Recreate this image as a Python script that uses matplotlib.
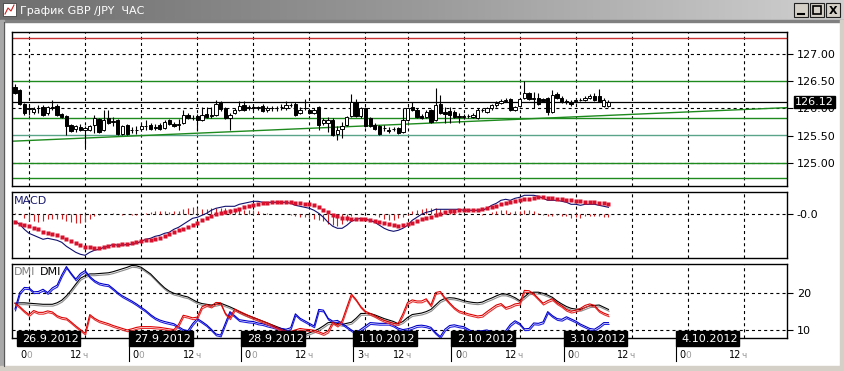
import matplotlib
matplotlib.use('Agg')
import matplotlib.pyplot as plt
import matplotlib.transforms as mtransforms
from matplotlib.colors import LinearSegmentedColormap
from matplotlib.patches import Rectangle
import numpy as np

plt.rcParams['font.family'] = ['DejaVu Sans']
plt.rcParams['lines.scale_dashes'] = False

# ---------------- data (hourly bars, 0 = 26.9.2012 00:00) ----------------
bars = np.arange(-3, 125)

opens = [126.39, 126.33, 126.08, 125.99, 125.94, 126.00, 126.02, 125.91, 126.02, 126.05, 125.90, 125.86, 125.70,
         125.62, 125.66, 125.61, 125.61, 125.70, 125.80, 125.60, 125.82, 125.76, 125.78,
         125.54, 125.70, 125.60, 125.60, 125.62, 125.67, 125.70, 125.65, 125.70, 125.64,
         125.78, 125.72, 125.70, 125.73, 125.88, 125.82, 125.87, 125.79, 125.89, 125.86,
         125.88, 126.11, 126.00, 125.82, 125.91, 125.97, 126.06, 126.01, 126.02, 126.01,
         126.05, 125.98, 126.00, 126.01, 126.02, 126.00, 126.06, 126.08, 125.91, 126.00,
         125.97, 125.92, 126.02, 125.73, 125.73, 125.79, 125.54, 125.62, 125.70, 125.86,
         126.12, 125.86, 126.00, 125.82, 125.70, 125.67, 125.64, 125.60, 125.62, 125.64,
         125.57, 125.79, 126.03, 125.97, 125.86, 125.85, 125.97, 125.79, 126.08, 125.94,
         125.96, 125.94, 125.86, 125.84, 125.86, 125.85, 125.83, 125.97, 125.94, 126.00,
         126.06, 126.10, 126.14, 126.17, 125.98, 126.05, 126.19, 126.28, 126.18, 126.19,
         126.17, 126.19, 125.94, 126.26, 126.19, 126.14, 126.12, 126.13, 126.16, 126.16,
         126.19, 126.22, 126.23, 126.05, 126.05]
highs = [126.45, 126.36, 126.10, 126.06, 126.03, 126.06, 126.06, 126.05, 126.16, 126.08, 125.92, 125.88, 125.72,
         125.70, 125.72, 125.68, 125.70, 125.88, 125.83, 125.97, 125.97, 125.85, 125.80,
         125.70, 125.72, 125.66, 125.67, 125.72, 125.79, 125.74, 125.72, 125.73, 125.79,
         125.80, 125.76, 125.80, 125.97, 125.91, 125.88, 125.89, 126.03, 126.03, 126.03,
         126.16, 126.14, 126.03, 125.91, 126.00, 126.14, 126.14, 126.06, 126.06, 126.05,
         126.08, 126.04, 126.05, 126.05, 126.08, 126.14, 126.10, 126.11, 126.02, 126.18,
         126.00, 126.00, 126.05, 125.82, 125.85, 125.82, 125.67, 125.76, 125.86, 126.27,
         126.17, 126.03, 126.03, 125.84, 125.73, 125.69, 125.69, 125.66, 125.66, 125.66,
         126.00, 126.03, 126.12, 126.00, 125.90, 125.98, 125.99, 126.37, 126.25, 126.02,
         126.02, 125.97, 125.92, 125.90, 125.90, 125.92, 126.00, 126.01, 126.03, 126.09,
         126.13, 126.18, 126.20, 126.20, 126.05, 126.20, 126.51, 126.31, 126.31, 126.29,
         126.20, 126.21, 126.34, 126.31, 126.22, 126.17, 126.15, 126.19, 126.20, 126.22,
         126.26, 126.29, 126.35, 126.19, 126.15]
lows = [126.27, 126.06, 125.88, 125.88, 125.90, 125.91, 125.86, 125.88, 125.97, 125.86, 125.82, 125.52, 125.57,
        125.57, 125.58, 125.30, 125.58, 125.55, 125.55, 125.58, 125.72, 125.67, 125.52,
        125.52, 125.52, 125.55, 125.53, 125.58, 125.61, 125.60, 125.61, 125.60, 125.62,
        125.69, 125.66, 125.61, 125.71, 125.80, 125.78, 125.61, 125.77, 125.82, 125.82,
        125.86, 125.96, 125.80, 125.61, 125.89, 125.95, 125.96, 125.97, 125.98, 125.98,
        125.94, 125.94, 125.96, 125.95, 125.98, 125.98, 126.02, 125.86, 125.89, 125.97,
        125.89, 125.90, 125.61, 125.70, 125.57, 125.49, 125.42, 125.45, 125.68, 125.84,
        125.84, 125.83, 125.66, 125.66, 125.60, 125.52, 125.58, 125.55, 125.58, 125.53,
        125.55, 125.77, 125.95, 125.83, 125.80, 125.83, 125.74, 125.77, 125.89, 125.73,
        125.73, 125.83, 125.74, 125.80, 125.82, 125.82, 125.80, 125.93, 125.92, 125.98,
        126.03, 126.08, 126.12, 125.96, 125.95, 126.02, 126.17, 126.15, 126.00, 126.07,
        126.12, 125.88, 125.92, 126.17, 126.10, 126.09, 126.05, 126.10, 126.13, 126.14,
        126.17, 126.14, 126.11, 126.03, 126.03]
closes = [126.28, 126.08, 125.91, 126.00, 125.99, 126.00, 125.88, 126.02, 126.01, 125.88, 125.84, 125.68, 125.59,
          125.67, 125.61, 125.65, 125.68, 125.82, 125.57, 125.79, 125.74, 125.77, 125.53,
          125.68, 125.53, 125.61, 125.60, 125.67, 125.68, 125.62, 125.66, 125.62, 125.76,
          125.71, 125.68, 125.71, 125.88, 125.82, 125.83, 125.78, 125.88, 125.84, 125.88,
          126.09, 125.99, 125.82, 125.88, 125.97, 126.05, 125.98, 126.02, 126.01, 126.02,
          125.96, 126.00, 126.01, 126.00, 126.03, 126.06, 126.07, 125.88, 125.97, 126.01,
          125.91, 125.98, 125.70, 125.79, 125.79, 125.51, 125.61, 125.67, 125.84, 126.11,
          125.86, 126.00, 125.68, 125.68, 125.62, 125.54, 125.64, 125.58, 125.62, 125.55,
          125.79, 126.00, 125.97, 125.85, 125.82, 125.94, 125.76, 126.06, 125.91, 125.90,
          125.88, 125.85, 125.84, 125.86, 125.86, 125.88, 125.97, 125.97, 126.00, 126.06,
          126.10, 126.14, 126.16, 125.98, 126.03, 126.17, 126.28, 126.17, 126.19, 126.09,
          126.14, 125.94, 126.25, 126.19, 126.12, 126.11, 126.08, 126.16, 126.16, 126.19,
          126.22, 126.16, 126.13, 126.16, 126.12]

last_price = 126.12
red_levels = [127.29]
green_levels = [126.51, 125.82, 125.00, 124.72]
teal_levels = [125.51]
trend_bars = [-3.64, 162.2]
trend_prices = [125.40, 126.015]
price_ticks = [125.0, 125.5, 126.0, 126.5, 127.0]
price_grid = [125.0, 126.0, 127.0]

macd = [-0.07, -0.10, -0.15, -0.19, -0.21, -0.23, -0.25, -0.24, -0.25, -0.26, -0.28, -0.32, -0.35,
        -0.38, -0.40, -0.41, -0.38, -0.36, -0.35, -0.33, -0.32, -0.30, -0.31,
        -0.31, -0.30, -0.30, -0.29, -0.27, -0.25, -0.24, -0.22, -0.21, -0.19,
        -0.18, -0.15, -0.13, -0.10, -0.07, -0.04, -0.03, -0.01, 0.01, 0.04,
        0.06, 0.07, 0.08, 0.08, 0.08, 0.10, 0.11, 0.12, 0.13, 0.13,
        0.12, 0.12, 0.12, 0.12, 0.12, 0.12, 0.11, 0.09, 0.08, 0.07,
        0.06, 0.04, 0.01, -0.03, -0.08, -0.12, -0.14, -0.14, -0.11, -0.07,
        -0.05, -0.04, -0.05, -0.06, -0.08, -0.11, -0.14, -0.16, -0.17, -0.16,
        -0.14, -0.11, -0.06, -0.03, 0.00, 0.02, 0.03, 0.05, 0.05, 0.05,
        0.05, 0.05, 0.05, 0.04, 0.04, 0.04, 0.04, 0.04, 0.06, 0.09,
        0.11, 0.14, 0.15, 0.14, 0.16, 0.17, 0.19, 0.19, 0.19, 0.18,
        0.16, 0.14, 0.14, 0.14, 0.13, 0.12, 0.10, 0.10, 0.09, 0.10,
        0.10, 0.10, 0.09, 0.08, 0.07]
signal = [-0.08, -0.10, -0.11, -0.12, -0.14, -0.15, -0.18, -0.19, -0.20, -0.21, -0.23, -0.25, -0.27,
          -0.29, -0.31, -0.33, -0.33, -0.34, -0.34, -0.33, -0.32, -0.31, -0.31,
          -0.30, -0.30, -0.29, -0.28, -0.27, -0.26, -0.26, -0.25, -0.24, -0.22,
          -0.20, -0.18, -0.16, -0.15, -0.13, -0.11, -0.09, -0.06, -0.04, -0.02,
          0.00, 0.01, 0.02, 0.03, 0.04, 0.05, 0.07, 0.08, 0.09, 0.10,
          0.11, 0.11, 0.12, 0.12, 0.12, 0.12, 0.12, 0.11, 0.11, 0.10,
          0.10, 0.09, 0.07, 0.04, 0.02, -0.01, -0.02, -0.04, -0.04, -0.05,
          -0.05, -0.05, -0.05, -0.06, -0.07, -0.08, -0.09, -0.10, -0.11, -0.12,
          -0.11, -0.10, -0.09, -0.07, -0.05, -0.04, -0.03, -0.01, 0.00, 0.02,
          0.03, 0.03, 0.04, 0.04, 0.04, 0.04, 0.04, 0.05, 0.06, 0.07,
          0.08, 0.10, 0.11, 0.12, 0.13, 0.14, 0.15, 0.15, 0.16, 0.17,
          0.17, 0.16, 0.16, 0.15, 0.15, 0.14, 0.14, 0.13, 0.13, 0.12,
          0.12, 0.12, 0.11, 0.11, 0.10]

adx = [17.3, 17.4, 17.4, 17.3, 17.2, 17.1, 17.0, 17.0, 17.0, 17.4, 18.1, 19.3, 20.8,
       22.5, 24.1, 24.8, 25.3, 25.3, 25.4, 25.5, 25.6, 25.9, 26.3,
       26.7, 27.1, 27.6, 27.5, 27.1, 26.2, 25.3, 24.0, 22.7, 21.5,
       20.6, 20.0, 19.7, 19.3, 19.0, 18.3, 17.6, 17.2, 17.0, 16.8,
       17.0, 17.3, 16.8, 16.3, 15.7, 15.0, 14.4, 13.9, 13.4, 12.9,
       12.4, 11.9, 11.4, 10.9, 10.4, 9.9, 9.4, 9.1, 8.8, 8.7,
       9.2, 9.7, 10.3, 11.1, 12.0, 12.1, 11.8, 11.5, 11.8, 12.1,
       13.2, 14.5, 14.5, 14.5, 14.1, 13.6, 13.1, 12.7, 12.3, 11.7,
       12.3, 13.4, 14.2, 14.4, 14.6, 15.0, 15.6, 16.8, 18.0, 18.6,
       18.8, 18.7, 18.4, 18.0, 17.7, 17.5, 17.4, 17.6, 18.2, 18.7,
       19.3, 19.8, 19.8, 19.4, 18.8, 18.0, 19.0, 20.1, 20.3, 20.3,
       20.0, 19.5, 18.9, 17.9, 17.1, 16.4, 15.9, 15.7, 15.6, 16.1,
       16.6, 16.7, 16.8, 16.2, 15.6]
plus_di = [15.7, 20.2, 21.6, 21.5, 20.4, 20.5, 21.1, 20.2, 21.5, 22.2, 25.0, 27.3, 25.5,
           23.9, 25.4, 26.2, 24.6, 23.5, 22.8, 22.5, 22.3, 21.3, 20.2,
           19.3, 18.6, 17.9, 17.1, 16.2, 15.3, 14.2, 13.3, 12.7, 12.3,
           12.0, 11.7, 10.9, 10.1, 9.8, 11.7, 13.1, 12.3, 11.4, 10.2,
           8.9, 8.6, 11.8, 15.0, 13.9, 12.8, 12.6, 12.4, 12.3, 11.9,
           11.7, 11.3, 11.0, 10.6, 10.4, 10.2, 10.6, 14.4, 13.2, 12.5,
           11.8, 11.1, 15.6, 15.4, 13.2, 12.4, 12.6, 11.8, 10.9, 10.0,
           9.3, 10.2, 11.1, 12.0, 11.9, 11.8, 11.8, 11.8, 11.3, 10.5,
           10.1, 10.3, 10.7, 11.2, 11.3, 11.1, 10.7, 9.3, 8.2, 10.2,
           11.2, 11.4, 11.1, 10.9, 10.2, 9.5, 9.7, 9.8, 10.0, 9.5,
           9.0, 8.8, 9.8, 11.5, 12.5, 11.8, 10.3, 10.4, 11.9, 11.8,
           12.2, 15.0, 13.9, 13.1, 12.9, 13.6, 13.0, 12.4, 11.6, 11.0,
           10.4, 10.2, 11.0, 12.0, 12.0]
minus_di = [17.3, 16.4, 15.2, 14.2, 15.3, 14.8, 14.8, 15.2, 14.9, 13.9, 13.4, 13.2, 12.2,
            11.1, 10.1, 9.1, 14.2, 13.2, 12.5, 12.1, 11.7, 11.2, 10.8,
            10.4, 10.0, 10.3, 10.7, 10.9, 10.9, 10.9, 10.8, 10.7, 10.5,
            10.3, 10.1, 11.5, 14.0, 13.7, 13.3, 13.5, 16.3, 16.9, 16.5,
            17.5, 17.4, 14.6, 13.3, 15.7, 15.1, 14.5, 13.9, 13.4, 12.9,
            12.4, 11.9, 11.3, 10.7, 10.1, 9.6, 9.6, 10.0, 10.4, 10.2,
            10.1, 9.9, 9.5, 9.0, 9.7, 12.1, 11.3, 12.5, 16.2, 19.8,
            18.3, 16.4, 15.1, 14.5, 13.9, 13.2, 12.6, 12.2, 11.8, 11.8,
            14.4, 17.5, 18.2, 17.9, 17.9, 18.5, 16.8, 20.2, 20.5, 18.8,
            17.4, 16.1, 15.2, 14.8, 14.4, 14.1, 13.8, 14.0, 15.0, 15.9,
            16.8, 17.2, 16.1, 16.5, 17.1, 17.3, 20.8, 20.7, 19.9, 18.6,
            17.3, 18.0, 18.5, 17.4, 16.6, 15.6, 15.1, 15.4, 15.9, 16.7,
            17.1, 16.7, 15.3, 14.6, 14.1]

grid_bars = [0, 12, 24, 36, 48, 60, 72, 81, 93, 105, 117, 129, 141, 153]
hour_nums = ['0', '12', '0', '12', '0', '12', '3', '12', '0', '12', '0', '12', '0', '12']
hour_suffix = ['0', 'ч', '0', 'ч', '0', 'ч', 'ч', 'ч', '0', 'ч', '0', 'ч', '0', 'ч']
date_bars = [0, 24, 48, 72, 93, 117, 141]
date_labels = ['26.9.2012', '27.9.2012', '28.9.2012', '1.10.2012', '2.10.2012', '3.10.2012', '4.10.2012']

# ---------------- figure / window frame ----------------
W, H = 844, 371
fig = plt.figure(figsize=(W / 100, H / 100), dpi=100)
fig.patch.set_facecolor('white')


def px_axes(left, top, right, bottom):
    return fig.add_axes([left / W, 1 - bottom / H, (right - left) / W, (bottom - top) / H])


def fy(ypx):
    return 1 - ypx / H


bg = fig.add_axes([0, 0, 1, 1])
bg.set_xlim(0, W)
bg.set_ylim(H, 0)
bg.axis('off')

title_cmap = LinearSegmentedColormap.from_list('title', ['#6e6e6e', '#9a9a9a', '#d0d0d0'])
bg.imshow(np.linspace(0, 1, 256)[None, :], cmap=title_cmap, aspect='auto',
          extent=(0, W, 20, 0), zorder=1)
bg.add_patch(Rectangle((0, 20), W, 2, color='#808080', zorder=2))
bg.add_patch(Rectangle((0, 20), 4, H - 20, color='#a8a8a8', zorder=2))
bg.plot([4, 4], [22, H - 5], color='#5a5a5a', lw=0.8, zorder=3)
bg.add_patch(Rectangle((0, H - 5), W, 5, color='#d4d0c8', zorder=2))
bg.add_patch(Rectangle((W - 4, 20), 4, H - 20, color='#d4d0c8', zorder=2))

# title icon and text
bg.add_patch(Rectangle((3, 3), 13, 13, facecolor='white', edgecolor='#404040', lw=0.6, zorder=3))
bg.plot([5, 8, 11, 14], [14, 8, 11, 5], color='#d02020', lw=0.8, zorder=4)
bg.text(20, 10.5, 'График GBP /JPY  ЧАС', color='white', fontsize=8, va='center', ha='left', zorder=4)

# window buttons
for i, bx in enumerate([794, 810, 826]):
    bg.add_patch(Rectangle((bx, 3), 14, 14, facecolor='#d4d0c8', edgecolor='#202020', lw=0.8, zorder=3))
bg.plot([798, 804], [14, 14], color='black', lw=1.5, zorder=4)
bg.add_patch(Rectangle((813, 6), 8, 8, facecolor='none', edgecolor='black', lw=1.2, zorder=4))
bg.text(833, 10.5, 'X', color='black', fontsize=8, fontweight='bold', ha='center', va='center', zorder=4)

X0, X1 = -3.64, 162.2
DASH = (0, (2.2, 2.2))


def style_panel(ax):
    ax.set_xlim(X0, X1)
    ax.set_xticks([])
    ax.set_facecolor('white')
    for s in ax.spines.values():
        s.set_color('black')
        s.set_linewidth(1.0)
    ax.yaxis.tick_right()
    ax.tick_params(axis='y', direction='out', length=4, width=0.8, pad=3,
                   labelsize=8, colors='black')
    for b in grid_bars:
        ax.axvline(b, color='black', lw=0.8, ls=DASH, zorder=1)


# ---------------- price panel ----------------
ax = px_axes(12, 32, 787, 186)
style_panel(ax)
ax.set_ylim(124.58, 127.40)
ax.set_yticks(price_ticks)
ax.set_yticklabels(['%.2f' % p for p in price_ticks])
for p in price_grid:
    ax.axhline(p, color='black', lw=0.8, ls=DASH, zorder=1)

for p in red_levels:
    ax.axhline(p, color='#c83232', lw=1.0, zorder=2)
for p in green_levels:
    ax.axhline(p, color='#1e8a1e', lw=1.0, zorder=2)
for p in teal_levels:
    ax.axhline(p, color='#5aa58a', lw=1.0, zorder=2)
ax.plot(trend_bars, trend_prices, color='#1e8a1e', lw=1.0, zorder=2)
ax.axhline(last_price, color='black', lw=0.9, zorder=2)

o = np.array(opens)
c = np.array(closes)
up = c >= o
ax.vlines(bars, lows, highs, color='black', lw=0.8, zorder=3)
ax.bar(bars, np.abs(c - o), bottom=np.minimum(o, c), width=0.7,
       color=np.where(up, 'white', 'black'), edgecolor='black', linewidth=0.7, zorder=4)

tr = mtransforms.blended_transform_factory(ax.transAxes, ax.transData)
ax.text(1.0105, last_price, '%.2f' % last_price, transform=tr, color='white', fontsize=8,
        ha='left', va='center', zorder=6,
        bbox=dict(boxstyle='square,pad=0.12', facecolor='black', edgecolor='black'))

# ---------------- MACD panel ----------------
mx = px_axes(12, 192, 787, 258)
style_panel(mx)
mx.set_ylim(-0.437, 0.223)
mx.set_yticks([0])
mx.set_yticklabels(['-0.0'])
mx.axhline(0, color='black', lw=0.8, ls=DASH, zorder=1)
hist = np.array(macd) - np.array(signal)
mx.vlines(bars, 0, hist, color='#d42020', lw=0.8, zorder=2)
mx.plot(bars, macd, color='#101070', lw=0.8, zorder=3)
mx.plot(bars, signal, ls='none', marker='s', ms=2.3, color='#d8102c', mec='none', zorder=4)
mx.text(0.003, 0.87, 'MACD', transform=mx.transAxes, color='#1a1a70', fontsize=8,
        ha='left', va='center')

# ---------------- DMI panel ----------------
dx = px_axes(12, 264, 787, 338)
style_panel(dx)
dx.set_ylim(7.8, 28.0)
dx.set_yticks([10, 20])
dx.set_yticklabels(['10', '20'])
for v in [10, 20]:
    dx.axhline(v, color='black', lw=0.8, ls=DASH, zorder=1)
shift = mtransforms.offset_copy(dx.transData, fig=fig, x=0.5, y=-1.8, units='dots')
for series, col, col2 in [(adx, 'black', '#8c8c8c'),
                          (plus_di, '#0000c8', '#2020e0'),
                          (minus_di, '#dc0000', '#e83030')]:
    dx.plot(bars, series, color=col2, lw=0.8, transform=shift, zorder=3)
    dx.plot(bars, series, color=col, lw=0.8, zorder=3)
dx.text(0.003, 0.89, 'DMI', transform=dx.transAxes, color='#808080', fontsize=8,
        ha='left', va='center')
dx.text(0.036, 0.89, 'DMI', transform=dx.transAxes, color='black', fontsize=8,
        ha='left', va='center')

# ---------------- date boxes and hour labels ----------------
dtr = mtransforms.blended_transform_factory(dx.transData, fig.transFigure)
for i, (b, lab) in enumerate(zip(date_bars, date_labels)):
    left = max(b - 2.6, X0)
    dx.add_patch(Rectangle((left, fy(346)), 13.6, 15 / H, transform=dtr,
                           facecolor='black', edgecolor='black', clip_on=False, zorder=10))
    dx.text(left + 1.2, fy(338.5), lab, transform=dtr, color='white', fontsize=8,
            ha='left', va='center', clip_on=False, zorder=11)
    if i > 0:
        dx.plot([left, left], [fy(346), fy(361)], transform=dtr, color='black',
                lw=0.8, clip_on=False, zorder=10)

for b, num, suf in zip(grid_bars, hour_nums, hour_suffix):
    dx.text(b - 0.5, fy(355), num, transform=dtr, color='black', fontsize=7,
            ha='right', va='center', clip_on=False)
    dx.text(b - 0.5, fy(355), suf, transform=dtr, color='#9a9a9a', fontsize=6.5,
            ha='left', va='center', clip_on=False)

fig.savefig('out.png', dpi=100)
